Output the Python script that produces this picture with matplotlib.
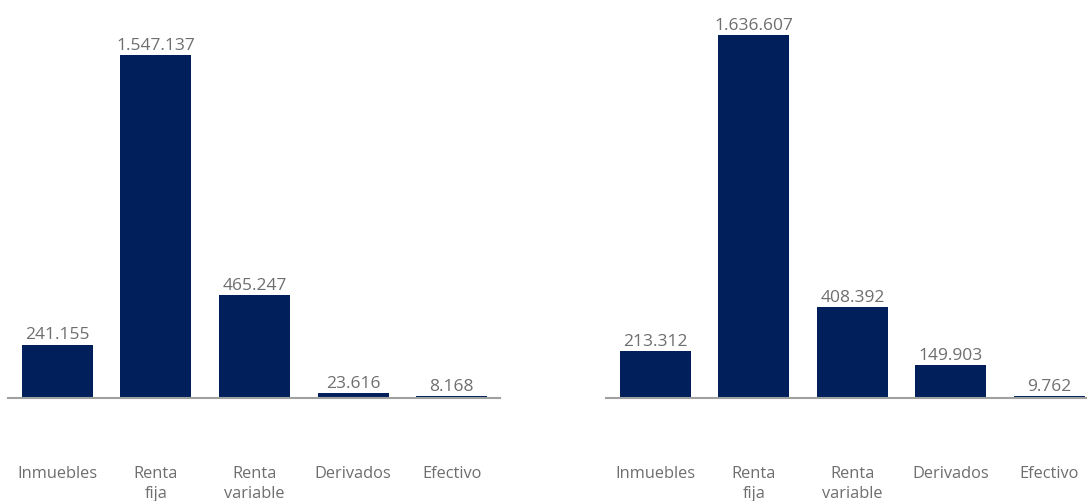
import matplotlib.pyplot as plt

plt.rcParams['font.family'] = ['Open Sans', 'DejaVu Sans']

categorias = ['Inmuebles', 'Renta\nfija', 'Renta\nvariable', 'Derivados', 'Efectivo']
valores_izq = [241155, 1547137, 465247, 23616, 8168]
valores_der = [213312, 1636607, 408392, 149903, 9762]

azul = '#001f5b'
gris = '#6e6e6e'

fig = plt.figure(figsize=(10.87, 5.02), dpi=100)
W, H = 1087, 502
base = 399
ymax = 1799300

def fmt(v):
    return f'{v:,}'.replace(',', '.')

def panel(x0, x1, xmax, valores):
    ax = fig.add_axes([x0 / W, (H - base) / H, (x1 - x0) / W, base / H])
    pos = range(len(valores))
    barras = ax.bar(pos, valores, width=0.72, color=azul, zorder=2)
    ax.bar_label(barras, labels=[fmt(v) for v in valores], padding=1.5,
                 color=gris, fontsize=12.5)
    ax.set_xlim(-0.5, xmax)
    ax.set_ylim(0, ymax)
    ax.set_xticks(list(pos))
    ax.set_xticklabels(categorias, color=gris, fontsize=11.8, linespacing=1.37)
    ax.tick_params(axis='x', length=0, pad=48)
    ax.set_yticks([])
    for s in ['top', 'right', 'left']:
        ax.spines[s].set_visible(False)
    ax.spines['bottom'].set_color('#a0a0a0')
    ax.spines['bottom'].set_linewidth(1.5)
    ax.patch.set_alpha(0)
    return ax

panel(8, 500, 4.49, valores_izq)
panel(606, 1087, 4.38, valores_der)

fig.savefig('out.png', dpi=100)
